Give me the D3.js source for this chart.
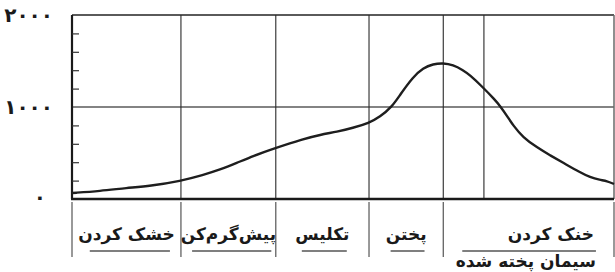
<!DOCTYPE html>
<html>
<head>
<meta charset="utf-8">
<script src="https://cdn.jsdelivr.net/npm/d3@7"></script>
<style>
  html, body { margin: 0; padding: 0; background: #fff; }
  svg { display: block; }
  text { font-family: "DejaVu Sans", sans-serif; }
</style>
</head>
<body>
<svg id="chart" width="615" height="272"></svg>
<script>
// ---- data ----
const timePoints = [0, 5.2, 10.1, 14.4, 20.1, 24.2, 27.3, 30.4, 33.4, 37.5, 42.6, 45.8, 48.9, 51.8, 54.8, 56.8, 59.0, 60.5, 62.9, 64.8, 66.6, 68.5, 70.3, 72.1, 73.4, 75.8, 78.0, 79.0, 80.3, 81.4, 83.2, 85.8, 88.2, 90.6, 93.7, 95.6, 97.4, 98.7, 100];
const temperature = [65, 87, 120, 141, 196, 261, 318, 392, 468, 554, 652, 698, 732, 772, 826, 891, 1000, 1130, 1326, 1424, 1467, 1478, 1457, 1402, 1348, 1215, 1080, 1010, 900, 800, 670, 560, 475, 395, 290, 235, 207, 196, 163];
const stageBounds = [0, 20.1, 37.6, 54.8, 68.5, 100];
const extraGridLines = [76.0];
const stageLabels = ["خشک کردن", "پیش‌گرم‌کن", "تکلیس", "پختن", "خنک کردن"];
const yTickValues = [0, 1000, 2000];
const yTickLabels = ["۰", "۱۰۰۰", "۲۰۰۰"];
const yMinorStep = 200;
const productLabel = "سیمان پخته شده";

// ---- layout ----
const svg = d3.select("#chart");
const plotLeft = 72, plotRight = 614, plotTop = 15, plotBottom = 199;
const x = d3.scaleLinear().domain([0, 100]).range([plotLeft, plotRight]);
const y = d3.scaleLinear().domain([0, 2000]).range([plotBottom, plotTop]);

// horizontal grid at 1000 and top border
svg.append("g").selectAll("line")
  .data([1000, 2000]).join("line")
  .attr("x1", plotLeft).attr("x2", plotRight)
  .attr("y1", d => y(d)).attr("y2", d => y(d))
  .attr("stroke", "#5a5a5a").attr("stroke-width", d => d === 2000 ? 2 : 1.5);

// right border
svg.append("line")
  .attr("x1", x(100)).attr("x2", x(100)).attr("y1", plotTop).attr("y2", plotBottom)
  .attr("stroke", "#6a6a6a").attr("stroke-width", 1.5);

// vertical grid lines inside plot
const innerLines = stageBounds.slice(1, -1).concat(extraGridLines);
svg.append("g").selectAll("line")
  .data(innerLines).join("line")
  .attr("x1", d => x(d)).attr("x2", d => x(d))
  .attr("y1", plotTop).attr("y2", plotBottom)
  .attr("stroke", "#2a2a2a").attr("stroke-width", 1.1);

// left axis with inward minor ticks
const minorTicks = d3.range(0, 2001, yMinorStep).filter(v => v !== 0 && v !== 2000 && v !== 1000);
const yAxis = d3.axisRight(y).tickValues(minorTicks).tickSize(7).tickFormat("");
const yg = svg.append("g").attr("transform", `translate(${plotLeft},0)`).call(yAxis);
yg.select(".domain").attr("stroke", "#1a1a1a").attr("stroke-width", 2.2)
  .attr("d", `M0,${plotTop}V${plotBottom}`);
yg.selectAll(".tick line").attr("stroke", "#333").attr("stroke-width", 1.2);

// bottom border
svg.append("line")
  .attr("x1", plotLeft - 1).attr("x2", plotRight).attr("y1", plotBottom).attr("y2", plotBottom)
  .attr("stroke", "#1a1a1a").attr("stroke-width", 2.5);

// y labels
svg.append("g").selectAll("text")
  .data(yTickValues).join("text")
  .attr("x", d => d === 0 ? 46 : 53)
  .attr("y", d => y(d) + (d === 0 ? 5 : 7))
  .attr("text-anchor", "end")
  .attr("font-size", 20).attr("font-weight", "bold")
  .attr("letter-spacing", 3)
  .attr("fill", "#1a1a1a")
  .text((d, i) => yTickLabels[i]);

// temperature curve
const line = d3.line()
  .x((d, i) => x(timePoints[i]))
  .y(d => y(d))
  .curve(d3.curveBasis);
svg.append("path")
  .datum(temperature)
  .attr("d", line)
  .attr("fill", "none")
  .attr("stroke", "#1e1e1e")
  .attr("stroke-width", 2.4)
  .attr("stroke-linejoin", "round");

// stage separators below the plot
svg.append("g").selectAll("line")
  .data(stageBounds).join("line")
  .attr("x1", d => x(d)).attr("x2", d => x(d))
  .attr("y1", 202).attr("y2", 257)
  .attr("stroke", "#555").attr("stroke-width", 1.2);

// stage labels with underline
const stages = stageLabels.map((s, i) => ({ label: s, a: stageBounds[i], b: stageBounds[i + 1] }));
const labelAnchor = [0.5, 0.5, 0.5, 0.5, 0.63];
const sg = svg.append("g");
stages.forEach((s, i) => {
  const cx = x(s.a) + (x(s.b) - x(s.a)) * labelAnchor[i];
  const t = sg.append("text")
    .attr("x", cx).attr("y", 240)
    .attr("text-anchor", "middle")
    .attr("font-size", 17).attr("font-weight", "bold")
    .attr("fill", "#1a1a1a")
    .text(s.label);
  const bb = t.node().getBBox();
  let u1 = bb.x + bb.width * 0.12, u2 = bb.x + bb.width * 0.95;
  if (i === 4) { u1 = x(s.a) + 19; u2 = bb.x + bb.width + 2; }
  sg.append("line")
    .attr("x1", u1).attr("x2", u2).attr("y1", 251).attr("y2", 251)
    .attr("stroke", "#555").attr("stroke-width", 1.5);
});

// product label
svg.append("text")
  .attr("x", 596).attr("y", 267)
  .attr("text-anchor", "end")
  .attr("font-size", 17).attr("font-weight", "bold")
  .attr("fill", "#1a1a1a")
  .text(productLabel);
</script>
</body>
</html>
